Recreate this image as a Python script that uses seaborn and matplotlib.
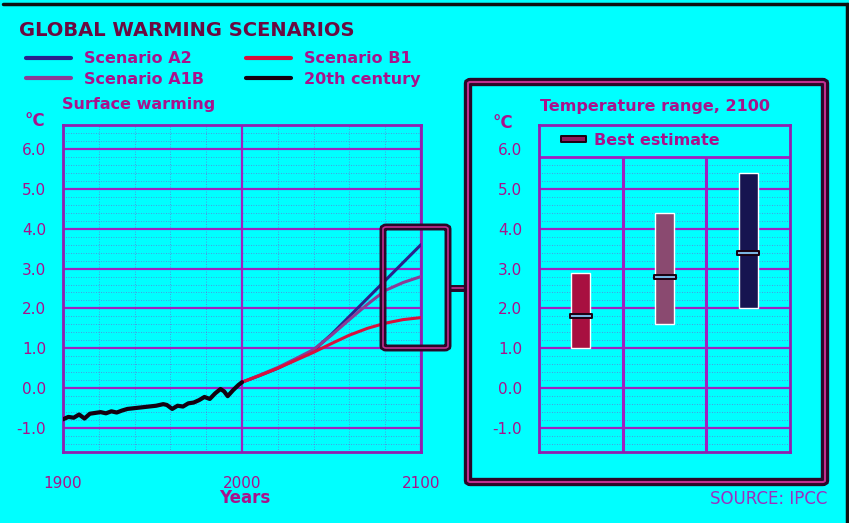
import matplotlib
matplotlib.use("Agg")
import matplotlib.pyplot as plt
import numpy as np
import pandas as pd
import seaborn as sns
from matplotlib.lines import Line2D
from matplotlib.patches import FancyBboxPatch
from matplotlib.path import Path

# observed 20th century anomaly
hist_years = [1900, 1903, 1906, 1909, 1912, 1915, 1918, 1921, 1924, 1927, 1930,
              1933, 1936, 1940, 1944, 1948, 1952, 1956, 1958, 1961, 1964, 1967,
              1970, 1973, 1976, 1979, 1982, 1985, 1988, 1990, 1992, 1995, 1998, 2000]
hist_temp = [-0.78, -0.72, -0.74, -0.66, -0.76, -0.64, -0.62, -0.6, -0.63, -0.58, -0.61,
             -0.56, -0.52, -0.5, -0.48, -0.46, -0.44, -0.4, -0.42, -0.52, -0.44, -0.46,
             -0.38, -0.36, -0.3, -0.22, -0.27, -0.13, -0.02, -0.08, -0.2, -0.05, 0.08, 0.15]

# scenario projections
scen_years = [2000, 2010, 2020, 2030, 2040, 2050, 2060, 2070, 2080, 2090, 2100]
a2_temp = [0.15, 0.32, 0.5, 0.72, 0.95, 1.35, 1.8, 2.25, 2.7, 3.15, 3.6]
a1b_temp = [0.15, 0.33, 0.52, 0.74, 0.97, 1.33, 1.72, 2.1, 2.45, 2.65, 2.8]
b1_temp = [0.15, 0.32, 0.5, 0.7, 0.9, 1.12, 1.33, 1.5, 1.63, 1.72, 1.77]

series_names = ["Scenario A2", "Scenario A1B", "Scenario B1", "20th century"]
series_colors = ["#28208c", "#8a3c96", "#d8103c", "#140010"]

# temperature range in 2100
range_low = [1.0, 1.6, 2.0]
range_high = [2.9, 4.4, 5.4]
best_est = [1.8, 2.8, 3.4]
range_colors = ["#a81040", "#8a4a70", "#161450"]

ytick_vals = [-1.0, 0.0, 1.0, 2.0, 3.0, 4.0, 5.0, 6.0]
xtick_vals = [1900, 2000, 2100]

BG = "#00ffff"
TXT = "#a8128c"
GRID = "#a020c0"
FRAME = "#9020b0"
DARK = "#2a0828"

W, H = 849, 523


def fx(px):
    return px / W


def fy(py):
    return 1 - py / H


sns.set_style("white")
plt.rcParams["font.family"] = ["DejaVu Sans"]

fig = plt.figure(figsize=(8.49, 5.23), dpi=100, facecolor=BG)

scen = pd.DataFrame({
    "year": scen_years * 3,
    "temp": a2_temp + a1b_temp + b1_temp,
    "series": ["Scenario A2"] * 11 + ["Scenario A1B"] * 11 + ["Scenario B1"] * 11,
})
hist = pd.DataFrame({"year": hist_years, "temp": hist_temp})
pal = dict(zip(series_names, series_colors))

# ---- left panel: surface warming
ax = fig.add_axes([fx(63), fy(452), fx(421 - 63), (452 - 125) / H])
ax.set_facecolor(BG)
sns.lineplot(data=scen, x="year", y="temp", hue="series", palette=pal,
             estimator=None, linewidth=2.2, legend=False, ax=ax, zorder=4)
sns.lineplot(data=hist, x="year", y="temp", color=pal["20th century"],
             estimator=None, linewidth=3, ax=ax, zorder=5)
ax.set_xlim(1900, 2100)
ax.set_ylim(-1.6, 6.6)
ax.set_xticks(xtick_vals)
ax.set_xticks(np.arange(1920, 2100, 20), minor=True)
ax.set_yticks(ytick_vals)
ax.set_yticks(np.arange(-1.6, 6.61, 0.2), minor=True)
ax.set_yticklabels(["%.1f" % v for v in ytick_vals])
ax.grid(which="major", color=GRID, linewidth=1.6)
ax.grid(which="minor", color=GRID, linewidth=0.6, linestyle=(0, (1, 2)), alpha=0.6)
ax.tick_params(axis="y", which="major", length=8, width=1.6, color=GRID,
               labelcolor=TXT, labelsize=11, pad=4)
ax.tick_params(axis="x", which="major", length=9, width=1.6, color=GRID,
               labelcolor=TXT, labelsize=11, pad=8)
ax.tick_params(which="minor", length=0)
ax.set_xlabel("")
ax.set_ylabel("")
for s in ax.spines.values():
    s.set_color(FRAME)
    s.set_linewidth(2)

# zoom box around 2080-2100
for lw, c in [(5, DARK), (1.2, "#c03090")]:
    fig.patches.append(FancyBboxPatch((fx(383), fy(348)), fx(448 - 383), (348 - 227) / H,
                                      boxstyle="round,pad=0,rounding_size=0.004",
                                      transform=fig.transFigure, fill=False,
                                      edgecolor=c, linewidth=lw, zorder=10))
    fig.add_artist(Line2D([fx(448), fx(468)], [fy(288), fy(288)], color=c,
                          linewidth=lw, transform=fig.transFigure, zorder=10))

# ---- right panel frame
for lw, c in [(6, DARK), (1.5, "#c03090")]:
    fig.patches.append(FancyBboxPatch((fx(468), fy(482)), fx(825 - 468), (482 - 82) / H,
                                      boxstyle="round,pad=0,rounding_size=0.003",
                                      transform=fig.transFigure, fill=False,
                                      edgecolor=c, linewidth=lw, zorder=10))

# ---- right panel: temperature range 2100
ax2 = fig.add_axes([fx(539), fy(452), fx(790 - 539), (452 - 125) / H])
ax2.set_facecolor(BG)
ax2.set_xlim(0, 3)
ax2.set_ylim(-1.6, 6.6)
minor_y = [v for v in np.arange(-1.4, 5.7, 0.2) if abs(v - round(v)) > 0.05]
ax2.hlines(minor_y, 0, 3, color=GRID, linewidth=0.6, linestyle=(0, (1, 2)), alpha=0.6)
ax2.hlines(ytick_vals[:-1], 0, 3, color=GRID, linewidth=1.6)
ax2.hlines([5.8], 0, 3, color=GRID, linewidth=2)
ax2.vlines([1, 2], -1.6, 5.8, color=GRID, linewidth=2.2)
xpos = np.arange(len(range_low)) + 0.5
ax2.bar(xpos, np.array(range_high) - np.array(range_low), bottom=range_low,
        width=0.23, color=range_colors, zorder=3)
pill = Path([(-1, -0.22), (1, -0.22), (1, 0.22), (-1, 0.22), (-1, -0.22)],
            [Path.MOVETO, Path.LINETO, Path.LINETO, Path.LINETO, Path.CLOSEPOLY])
ax2.scatter(xpos, best_est, marker=pill, s=250, facecolor="#7ab4e0",
            edgecolor="#1a0010", linewidth=1.4, zorder=4)
ax2.set_xticks([])
ax2.set_yticks(ytick_vals)
ax2.set_yticklabels(["%.1f" % v for v in ytick_vals])
ax2.tick_params(axis="y", length=8, width=1.6, color=GRID, labelcolor=TXT,
                labelsize=11, pad=4)
for s in ax2.spines.values():
    s.set_color(FRAME)
    s.set_linewidth(2)
best_handle = Line2D([], [], linestyle="none", marker=pill, markersize=18,
                     markerfacecolor="#8a1a5a", markeredgecolor="#1a0010",
                     markeredgewidth=1.4)
ax2.legend([best_handle], ["Best estimate"], loc="upper left",
           bbox_to_anchor=(0.015, 1.02), frameon=False, handletextpad=0.3,
           prop={"weight": "bold", "size": 11.5}, labelcolor=TXT)

# ---- texts
fig.text(fx(19), fy(30), "GLOBAL WARMING SCENARIOS", fontsize=14, fontweight="heavy",
         color="#6a0a40", va="center", ha="left")
handles = [Line2D([], [], color=c, linewidth=3) for c in series_colors]
fig.legend(handles, series_names, ncol=2, loc="upper left",
           bbox_to_anchor=(fx(12), fy(37)), frameon=False, handlelength=2.8,
           handletextpad=0.8, columnspacing=2.65, labelspacing=0.35,
           prop={"weight": "bold", "size": 11.5}, labelcolor=TXT)
fig.text(fx(62), fy(105), "Surface warming", fontsize=11.5, fontweight="bold",
         color=TXT, va="center", ha="left")
fig.text(fx(35), fy(121), "°C", fontsize=12, fontweight="bold", color=TXT,
         va="center", ha="center")
fig.text(fx(503), fy(123), "°C", fontsize=12, fontweight="bold", color=TXT,
         va="center", ha="center")
fig.text(fx(245), fy(498), "Years", fontsize=12, fontweight="bold", color=TXT,
         va="center", ha="center")
fig.text(fx(540), fy(106), "Temperature range, 2100", fontsize=11.5,
         fontweight="bold", color=TXT, va="center", ha="left")
fig.text(fx(827), fy(499), "SOURCE: IPCC", fontsize=12, color="#9a30c0",
         va="center", ha="right")

# outer border (top and right)
fig.add_artist(Line2D([fx(3), 1], [fy(3.5), fy(3.5)], color="#101010", linewidth=2.5,
                      transform=fig.transFigure))
fig.add_artist(Line2D([fx(847), fx(847)], [fy(3.5), 0], color="#101010", linewidth=2.5,
                      transform=fig.transFigure))

fig.savefig("out.png", dpi=100, facecolor=BG)
